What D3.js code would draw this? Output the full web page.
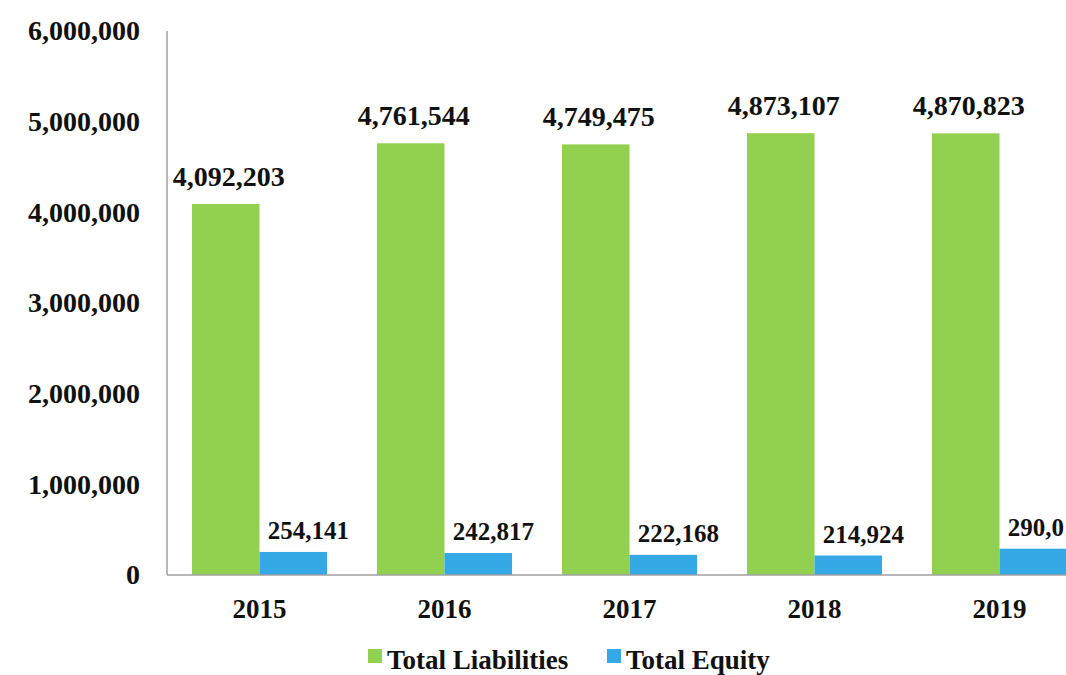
<!DOCTYPE html>
<html>
<head>
<meta charset="utf-8">
<script src="https://cdn.jsdelivr.net/npm/d3@7"></script>
<style>
  html, body { margin: 0; padding: 0; background: #fff; overflow: hidden; }
  svg { display: block; }
  svg text { font-family: 'Liberation Serif', 'Times New Roman', 'DejaVu Serif', serif; font-weight: 700; }
</style>
</head>
<body>
<svg id="chart" width="1066" height="675"></svg>
<script>
const years = ["2015", "2016", "2017", "2018", "2019"];
const totalLiabilities = [4092203, 4761544, 4749475, 4873107, 4870823];
const totalEquity = [254141, 242817, 222168, 214924, 290019];
const seriesNames = ["Total Liabilities", "Total Equity"];
const seriesColors = ["#92D050", "#35A8E6"];
const yTicks = [0, 1000000, 2000000, 3000000, 4000000, 5000000, 6000000];

(function () {
const svg = d3.select("#chart");
const plotLeft = 167, plotBottom = 575, plotTop = 31;
const step = 185;

const x = d3.scaleBand().domain(years)
  .range([plotLeft, plotLeft + step * years.length])
  .paddingInner(0.27).paddingOuter(0.135);
const xs = d3.scaleBand().domain(seriesNames).range([0, x.bandwidth()]);
const y = d3.scaleLinear().domain([0, 6000000]).range([plotBottom, plotTop]);

const fmt = d3.format(",");

// Y axis (labels only + line)
const yAxis = d3.axisLeft(y).tickValues(yTicks).tickSize(0).tickPadding(27).tickFormat(fmt);
const yg = svg.append("g").attr("transform", `translate(${plotLeft},0)`).call(yAxis);
yg.attr("font-family", null).attr("font-size", null);
yg.select(".domain").remove();
yg.selectAll("text").style("font-size", "28px").attr("fill", "#111");

// X axis
const xAxis = d3.axisBottom(x).tickSize(0).tickPadding(24);
const xg = svg.append("g").attr("transform", `translate(0,${plotBottom})`).call(xAxis);
xg.attr("font-family", null).attr("font-size", null);
xg.select(".domain").remove();
xg.selectAll("text").style("font-size", "27px").attr("fill", "#111");

// Bars
const data = years.map((yr, i) => ({ year: yr, vals: [totalLiabilities[i], totalEquity[i]] }));
const groups = svg.append("g").selectAll("g").data(data).join("g")
  .attr("transform", d => `translate(${x(d.year)},0)`);

groups.selectAll("rect").data(d => d.vals.map((v, j) => ({ v, j })))
  .join("rect")
  .attr("x", d => xs(seriesNames[d.j]))
  .attr("width", xs.bandwidth())
  .attr("y", d => y(d.v))
  .attr("height", d => plotBottom - y(d.v))
  .attr("fill", d => seriesColors[d.j]);

// Value labels
const labelOffsetX = [3, 15];
const labelOffsetY = [18, 13];
const labelSize = [28, 25];
groups.selectAll("text.val").data(d => d.vals.map((v, j) => ({ v, j })))
  .join("text").attr("class", "val")
  .attr("x", d => xs(seriesNames[d.j]) + xs.bandwidth() / 2 + labelOffsetX[d.j])
  .attr("y", d => y(d.v) - labelOffsetY[d.j])
  .attr("text-anchor", "middle")
  .style("font-size", d => labelSize[d.j] + "px")
  .attr("fill", "#111")
  .text(d => fmt(d.v));

// Axis lines
svg.append("line").attr("x1", plotLeft).attr("x2", plotLeft).attr("y1", plotTop).attr("y2", plotBottom)
  .attr("stroke", "#a0a0a0").attr("stroke-width", 1.5);
svg.append("line").attr("x1", plotLeft).attr("x2", 1066).attr("y1", plotBottom).attr("y2", plotBottom)
  .attr("stroke", "#a0a0a0").attr("stroke-width", 1.5);

// Legend
const legendItems = [{ x: 368, name: seriesNames[0], c: seriesColors[0] },
                     { x: 607, name: seriesNames[1], c: seriesColors[1] }];
const lg = svg.append("g").selectAll("g").data(legendItems).join("g")
  .attr("transform", d => `translate(${d.x},0)`);
lg.append("rect").attr("x", 0).attr("y", 649).attr("width", 14).attr("height", 14).attr("fill", d => d.c);
lg.append("text").attr("x", 19).attr("y", 669).style("font-size", "27px").attr("fill", "#111").text(d => d.name);
})();
</script>
</body>
</html>
